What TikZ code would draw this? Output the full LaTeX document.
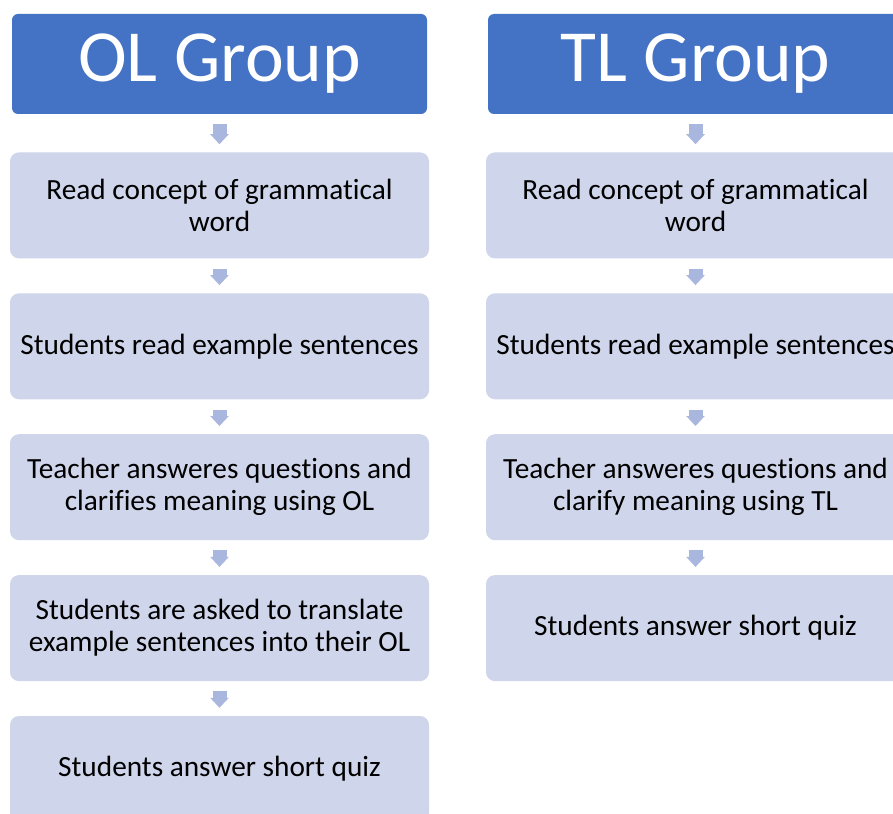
\documentclass[tikz,border=0pt]{standalone}
\usepackage{fontspec}
\setmainfont[RawFeature={-liga;-clig;-calt;-dlig}]{Carlito}
\usepackage{tikz}
\usetikzlibrary{arrows.meta,positioning}
\definecolor{HeadBlue}{HTML}{4472C4}
\definecolor{StepFill}{HTML}{CFD5EA}
\definecolor{ArrowFill}{HTML}{A9B7DE}
\tikzset{
  grouphead/.style={fill=HeadBlue,text=white,rounded corners=6pt,minimum width=415pt,minimum height=100pt,font=\fontsize{73.5}{80}\selectfont},
  stepbox/.style={fill=StepFill,text=black,rounded corners=9pt,minimum width=419pt,minimum height=106pt,align=center,inner sep=2pt,font=\fontsize{29.3}{32}\selectfont},
  blockarrow/.style={draw=ArrowFill,line width=14pt,-{Triangle[width=18pt,length=10pt]},shorten <=10pt,shorten >=8pt}
}
\begin{document}
\begin{tikzpicture}[x=1pt,y=-1pt]
  \clip (0,0) rectangle (893,813);
  \fill[white] (0,0) rectangle (893,813);

  % OL group column
  \node[grouphead] (olhead) at (219.5,64) {\raisebox{-3pt}{OL Group}};
  \node[stepbox,below=38pt of olhead] (ol1) {Read concept of grammatical\\word};
  \node[stepbox,below=34.5pt of ol1] (ol2) {Students read example sentences};
  \node[stepbox,below=34.5pt of ol2] (ol3) {Teacher answeres questions and\\clarifies meaning using OL};
  \node[stepbox,below=34.5pt of ol3] (ol4) {Students are asked to translate\\example sentences into their OL};
  \node[stepbox,below=34.5pt of ol4] (ol5) {Students answer short quiz};

  % TL group column
  \node[grouphead] (tlhead) at (695.5,64) {\raisebox{-3pt}{TL Group}};
  \node[stepbox,below=38pt of tlhead] (tl1) {Read concept of grammatical\\word};
  \node[stepbox,below=34.5pt of tl1] (tl2) {Students read example sentences};
  \node[stepbox,below=34.5pt of tl2] (tl3) {Teacher answeres questions and\\clarify meaning using TL};
  \node[stepbox,below=34.5pt of tl3] (tl4) {Students answer short quiz};

  \foreach \a/\b in {olhead/ol1,ol1/ol2,ol2/ol3,ol3/ol4,ol4/ol5,tlhead/tl1,tl1/tl2,tl2/tl3,tl3/tl4}{
    \draw[blockarrow] (\a.south) -- (\b.north);
  }
\end{tikzpicture}
\end{document}
